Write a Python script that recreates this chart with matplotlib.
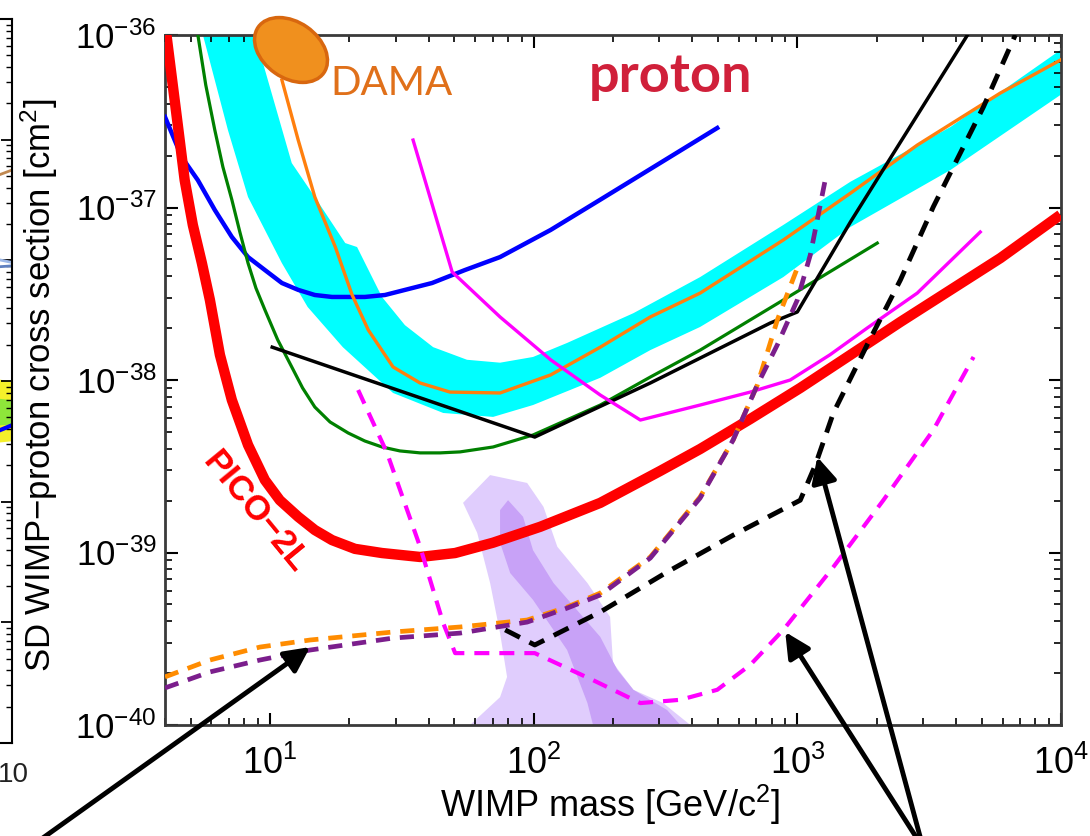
import matplotlib
matplotlib.use('Agg')
import matplotlib.pyplot as plt
from matplotlib.patches import Ellipse
from matplotlib.ticker import NullFormatter, LogLocator, FixedLocator

plt.rcParams['font.family'] = ['Liberation Sans', 'DejaVu Sans']
plt.rcParams['mathtext.fontset'] = 'custom'
plt.rcParams['mathtext.rm'] = 'Liberation Sans'
plt.rcParams['mathtext.it'] = 'Liberation Sans:italic'
plt.rcParams['mathtext.bf'] = 'Liberation Sans:bold'

# ---- data (WIMP mass in GeV/c^2, SD cross section in cm^2) ----
x_ticks = [1e1, 1e2, 1e3, 1e4]
y_ticks = [1e-40, 1e-39, 1e-38, 1e-37, 1e-36]

pico_m = [4.05, 4.40, 4.75, 5.10, 5.52, 5.92, 6.46, 7.17, 8.26, 9.57, 10.9, 12.8, 14.8, 17.2, 21.0, 26.6, 37.1,
          50.4, 70.2, 106, 179, 302, 428, 663, 1026, 2460, 5890, 9950]
pico_s = [1.0e-36, 3.67e-37, 1.44e-37, 7.92e-38, 4.76e-38, 2.91e-38, 1.40e-38, 7.66e-39, 4.20e-39, 2.63e-39,
          2.01e-39, 1.61e-39, 1.35e-39, 1.18e-39, 1.05e-39, 9.93e-40, 9.42e-40, 9.93e-40, 1.14e-39, 1.41e-39,
          1.94e-39, 2.97e-39, 3.98e-39, 5.94e-39, 8.99e-39, 2.17e-38, 5.09e-38, 9.06e-38]

band_up_m = [8.77, 12.1, 14.8, 19.3, 21.4, 26.6, 32.5, 41.6, 55.9, 74.6, 99.5, 134, 239, 428, 885, 1590, 3810, 9950]
band_up_s = [1.0e-36, 1.81e-37, 1.15e-37, 6.22e-38, 5.90e-38, 3.03e-38, 2.08e-38, 1.55e-38, 1.31e-38, 1.26e-38,
             1.36e-38, 1.64e-38, 2.44e-38, 3.95e-38, 7.92e-38, 1.41e-37, 2.93e-37, 8.18e-37]
band_lo_m = [5.57, 6.93, 8.26, 11.1, 13.9, 18.9, 29.3, 45.4, 70.2, 99.5, 179, 277, 428, 885, 1590, 3810, 9950]
band_lo_s = [1.0e-36, 2.81e-37, 1.15e-37, 4.76e-38, 2.65e-38, 1.55e-38, 8.41e-39, 6.44e-39, 6.11e-39, 7.16e-39,
             1.03e-38, 1.49e-38, 2.03e-38, 3.95e-38, 7.71e-38, 1.65e-37, 4.49e-37]

orange_m = [11.1, 12.8, 14.8, 17.7, 20.5, 23.6, 29.3, 37.1, 48.2, 74.6, 116, 179, 277, 428, 885, 1590, 2850, 5890, 9950]
orange_s = [5.49e-37, 2.46e-37, 1.15e-37, 5.90e-38, 3.11e-38, 1.95e-38, 1.19e-38, 9.61e-39, 8.51e-39, 8.41e-39,
            1.07e-38, 1.55e-38, 2.32e-38, 3.19e-38, 6.48e-38, 1.21e-37, 2.30e-37, 4.61e-37, 7.16e-37]

blue_m = [4.0, 4.63, 5.33, 6.18, 7.17, 8.26, 9.57, 11.1, 12.8, 14.8, 17.2, 22.9, 27.3, 41.2, 54.9, 74.6, 116, 179, 497]
blue_s = [3.35e-37, 1.96e-37, 1.44e-37, 9.67e-38, 6.75e-38, 5.16e-38, 4.34e-38, 3.65e-38, 3.33e-38, 3.11e-38,
          3.03e-38, 3.03e-38, 3.11e-38, 3.65e-38, 4.34e-38, 5.16e-38, 7.41e-38, 1.11e-37, 2.89e-37]

green_m = [5.33, 5.71, 6.18, 6.63, 7.17, 7.69, 8.26, 8.85, 9.57, 10.7, 12.1, 13.3, 14.8, 16.9, 19.8, 22.9, 26.6,
           31.1, 37.1, 44.2, 52.6, 70.2, 99.5, 179, 277, 428, 885, 2010]
green_s = [1.0e-36, 5.13e-37, 2.81e-37, 1.72e-37, 1.11e-37, 7.21e-38, 4.76e-38, 3.41e-38, 2.55e-38, 1.71e-38,
           1.19e-38, 8.99e-39, 6.97e-39, 5.71e-39, 4.93e-39, 4.43e-39, 4.09e-39, 3.88e-39, 3.78e-39, 3.78e-39,
           3.83e-39, 4.09e-39, 4.80e-39, 7.16e-39, 1.04e-38, 1.49e-38, 2.91e-38, 6.22e-38]

black_m = [10.2, 101, 277, 790, 1000, 1590, 4420]
black_s = [1.55e-38, 4.67e-39, 9.61e-39, 2.14e-38, 2.48e-38, 8.24e-38, 1.0e-36]

mag_m = [34.9, 49.1, 74.6, 116, 179, 254, 428, 663, 940, 1330, 1840, 2850, 4940]
mag_s = [2.46e-37, 4.23e-38, 2.32e-38, 1.31e-38, 8.18e-39, 5.86e-39, 7.16e-39, 8.51e-39, 1.0e-38, 1.40e-38,
         2.00e-38, 3.19e-38, 7.21e-38]

magd_m = [21.6, 27.8, 37.1, 45.4, 50.4, 101, 168, 254, 360, 497, 663, 885, 1370, 2120, 3280, 4660]
magd_s = [8.75e-39, 3.78e-39, 1.08e-39, 3.90e-40, 2.61e-40, 2.61e-40, 1.82e-40, 1.34e-40, 1.40e-40, 1.60e-40,
          2.23e-40, 3.56e-40, 8.24e-40, 2.01e-39, 5.13e-39, 1.36e-38]

blkd_m = [78.0, 101, 179, 321, 571, 1026, 1170, 1370, 1840, 2460, 3280, 5080, 6710]
blkd_s = [3.56e-40, 2.91e-40, 4.52e-40, 7.71e-40, 1.26e-39, 2.01e-39, 3.21e-39, 6.44e-39, 1.60e-38, 3.80e-38,
          1.01e-37, 3.83e-37, 1.0e-36]

orgd_m = [4.0, 5.92, 9.16, 14.2, 29.3, 52.6, 94.5, 134, 179, 277, 428, 571, 705, 840, 1000]
orgd_s = [1.90e-40, 2.38e-40, 2.83e-40, 3.11e-40, 3.46e-40, 3.70e-40, 4.06e-40, 4.83e-40, 5.82e-40, 9.42e-40,
          2.10e-39, 4.49e-39, 9.35e-39, 2.23e-38, 4.46e-38]

purd_m = [4.0, 5.92, 9.16, 14.2, 29.3, 52.6, 94.5, 134, 179, 277, 428, 571, 705, 840, 1000, 1120, 1280]
purd_s = [1.64e-40, 2.03e-40, 2.38e-40, 2.72e-40, 3.19e-40, 3.41e-40, 3.95e-40, 4.76e-40, 5.67e-40, 9.29e-40,
          2.07e-39, 4.49e-39, 9.35e-39, 1.60e-38, 2.91e-38, 5.31e-38, 1.48e-37]

light_m = [54.0, 68.4, 94.5, 109, 123, 160, 195, 200, 239, 310, 393, 57.4, 74.6, 79.3, 74.6, 68.4, 61.1]
light_s = [1.94e-39, 2.81e-39, 2.53e-39, 1.84e-39, 1.08e-39, 6.65e-40, 4.23e-40, 2.29e-40, 1.60e-40, 1.34e-40,
           1.0e-40, 1.0e-40, 1.45e-40, 1.90e-40, 3.41e-40, 6.65e-40, 1.30e-39]
dark_m = [80.0, 91.2, 99.5, 119, 146, 179, 208, 239, 321, 360, 168, 160, 134, 99.5, 81.5, 74.6, 74.6]
dark_s = [2.01e-39, 1.61e-39, 1.03e-39, 6.65e-40, 4.64e-40, 3.24e-40, 2.08e-40, 1.60e-40, 1.22e-40, 1.0e-40,
          1.0e-40, 1.34e-40, 2.72e-40, 5.31e-40, 7.60e-40, 1.14e-39, 1.76e-39]

# arrow tips (mass, sigma)
arrow_tips = [(14.2, 2.83e-40), (900, 3.46e-40), (1191, 3.58e-39)]

# fragment of the neighbouring plot at the left edge
left_x = [0.9, 1.0]
left_brown = [0.044, 0.056]
left_ltblue = [0.0110, 0.0096]
left_stblue = [0.0086, 0.0090]
left_yel_lo = [3.0e-4, 3.2e-4]
left_yel_hi = [1.1e-3, 1.0e-3]
left_grn_lo = [4.2e-4, 4.4e-4]
left_grn_hi = [7.5e-4, 7.0e-4]
left_blue = [3.3e-4, 4.3e-4]

fig = plt.figure(figsize=(10.9, 8.36), dpi=100)

# left fragment
ax0 = fig.add_axes([-0.3, 93 / 836, 0.3 + 12 / 1090, 724 / 836])
ax0.set_yscale('log')
ax0.set_xlim(0, 1)
ax0.set_ylim(1e-6, 1)
ax0.fill_between(left_x, left_yel_lo, left_yel_hi, color='#F5F02A', lw=0)
ax0.fill_between(left_x, left_grn_lo, left_grn_hi, color='#8EE63A', lw=0)
ax0.plot(left_x, left_brown, color='#C08850', lw=2)
ax0.plot(left_x, left_ltblue, color='#9DB8E8', lw=2)
ax0.plot(left_x, left_stblue, color='#5F80C0', lw=2)
ax0.plot(left_x, left_blue, color='#0000FF', lw=3)
ax0.set_xticks([])
ax0.yaxis.tick_right()
ax0.yaxis.set_major_formatter(NullFormatter())
ax0.yaxis.set_minor_formatter(NullFormatter())
ax0.tick_params(axis='y', which='both', direction='in', labelright=False, labelleft=False)
ax0.tick_params(axis='y', which='major', length=8, width=1.3)
ax0.tick_params(axis='y', which='minor', length=4, width=1.0)
for s in ax0.spines.values():
    s.set_linewidth(1.5)
fig.text(-2 / 1090, (836 - 782) / 836, '10', fontsize=20, ha='left', va='baseline', color='#222222')

# main axes
ax = fig.add_axes([165 / 1090, 111 / 836, 896 / 1090, 690 / 836])
ax.set_xscale('log')
ax.set_yscale('log')

ax.fill(band_up_m + band_lo_m[::-1], band_up_s + band_lo_s[::-1], color='#00FFFF', lw=0, zorder=1)
ax.fill(light_m, light_s, color='#E0CDFD', lw=0, zorder=1)
ax.fill(dark_m, dark_s, color='#C8A2F7', lw=0, zorder=1.1)

ax.plot(blue_m, blue_s, color='#0000FF', lw=3.2, zorder=3)
ax.plot(green_m, green_s, color='#008000', lw=2.3, zorder=3)
ax.plot(orange_m, orange_s, color='#FF7F0E', lw=2.4, zorder=3)
ax.plot(black_m, black_s, color='black', lw=2.5, zorder=3)
ax.plot(mag_m, mag_s, color='#FF00FF', lw=2.4, zorder=3)
ax.plot(pico_m, pico_s, color='#FF0000', lw=7.5, zorder=4, solid_capstyle='butt', solid_joinstyle='round')
ax.plot(magd_m, magd_s, color='#FF00FF', lw=3.0, dashes=(3.6, 2.4), zorder=5)
ax.plot(blkd_m, blkd_s, color='black', lw=3.5, dashes=(3.4, 2.2), zorder=5)
ax.plot(orgd_m, orgd_s, color='#FF8C00', lw=3.4, dashes=(3.0, 2.1), zorder=5)
ax.plot(purd_m, purd_s, color='#7B1E8C', lw=3.4, dashes=(3.0, 2.1), zorder=5)

ax.set_xlim(4.0, 1e4)
ax.set_ylim(1e-40, 1e-36)
ax.xaxis.set_major_locator(FixedLocator(x_ticks))
ax.yaxis.set_major_locator(FixedLocator(y_ticks))
ax.xaxis.set_minor_locator(LogLocator(base=10, subs=range(2, 10), numticks=20))
ax.yaxis.set_minor_locator(LogLocator(base=10, subs=range(2, 10), numticks=20))
ax.xaxis.set_minor_formatter(NullFormatter())
ax.yaxis.set_minor_formatter(NullFormatter())
ax.tick_params(which='both', direction='in', top=True, right=True)
ax.tick_params(axis='y', labelsize=25, pad=6)
ax.tick_params(axis='x', labelsize=26, pad=15)
ax.tick_params(which='major', length=9, width=1.5)
ax.tick_params(which='minor', length=5, width=1.2)
for s in ax.spines.values():
    s.set_linewidth(2)
    s.set_color('#3a3a3a')

ax.set_xlabel('WIMP mass [GeV/c$^2$]', fontsize=26)
ax.set_ylabel('SD WIMP\u2212proton cross section [cm$^2$]', fontsize=25)
ax.xaxis.set_label_coords(0.497, -0.084)
ax.yaxis.set_label_coords(-0.117, 0.493)

# arrows from below the figure
arrow_tails = [(40, -4), (918, -4), (921, -4)]
for tip, tail in zip(arrow_tips, arrow_tails):
    ax.annotate('', xy=tip, xycoords='data', xytext=tail, textcoords='figure pixels',
                arrowprops=dict(arrowstyle='-|>', color='black', lw=3.5, mutation_scale=38,
                                shrinkA=0, shrinkB=0),
                annotation_clip=False, zorder=10)

# DAMA blob and labels
blob = Ellipse((2.91, 7.86), 0.80, 0.56, angle=-35, transform=fig.dpi_scale_trans,
               facecolor='#F0901E', edgecolor='#D8670F', lw=2.5, clip_on=False, zorder=12)
fig.add_artist(blob)
fig.text(392 / 1090, (836 - 95) / 836, 'DAMA', color='#E0701A', fontsize=29,
         family='Lato', ha='center', va='baseline')
fig.text(671 / 1090, (836 - 92) / 836, 'proton', color='#D0203A', fontsize=39,
         family='Lato', fontweight='bold', ha='center', va='baseline')
fig.text(255 / 1090, (836 - 512) / 836, 'PICO\u22122L', color='#FF0000', fontsize=25,
         fontweight='bold', rotation=-50.6, ha='center', va='center', rotation_mode='anchor')

fig.savefig('out.png', dpi=100)
